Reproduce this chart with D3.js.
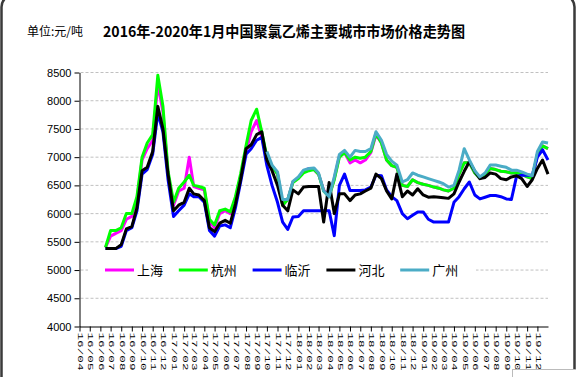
<!DOCTYPE html>
<html>
<head>
<meta charset="utf-8">
<script src="https://cdn.jsdelivr.net/npm/d3@7"></script>
<style>
  body { margin: 0; background: #fff; }
  svg { display: block; }
</style>
</head>
<body>
<div id="chart"></div>
<script>
// half-monthly observation dates
const dates = [
  "2016-06-16",
  "2016-07-01","2016-07-16","2016-08-01","2016-08-16","2016-09-01","2016-09-16",
  "2016-10-01","2016-10-16","2016-11-01","2016-11-16","2016-12-01","2016-12-16",
  "2017-01-01","2017-01-16","2017-02-01","2017-02-16","2017-03-01","2017-03-16",
  "2017-04-01","2017-04-16","2017-05-01","2017-05-16","2017-06-01","2017-06-16",
  "2017-07-01","2017-07-16","2017-08-01","2017-08-16","2017-09-01","2017-09-16",
  "2017-10-01","2017-10-16","2017-11-01","2017-11-16","2017-12-01","2017-12-16",
  "2018-01-01","2018-01-16","2018-02-01","2018-02-16","2018-03-01","2018-03-16",
  "2018-04-01","2018-04-16","2018-05-01","2018-05-16","2018-06-01","2018-06-16",
  "2018-07-01","2018-07-16","2018-08-01","2018-08-16","2018-09-01","2018-09-16",
  "2018-10-01","2018-10-16","2018-11-01","2018-11-16","2018-12-01","2018-12-16",
  "2019-01-01","2019-01-16","2019-02-01","2019-02-16","2019-03-01","2019-03-16",
  "2019-04-01","2019-04-16","2019-05-01","2019-05-16","2019-06-01","2019-06-16",
  "2019-07-01","2019-07-16","2019-08-01","2019-08-16","2019-09-01","2019-09-16",
  "2019-10-01","2019-10-16","2019-11-01","2019-11-16","2019-12-01","2019-12-16",
  "2020-01-01"
];

const monthLabels = [
  "16/04","16/05","16/06","16/07","16/08","16/09","16/10","16/11","16/12",
  "17/01","17/02","17/03","17/04","17/05","17/06","17/07","17/08","17/09","17/10","17/11","17/12",
  "18/01","18/02","18/03","18/04","18/05","18/06","18/07","18/08","18/09","18/10","18/11","18/12",
  "19/01","19/02","19/03","19/04","19/05","19/06","19/07","19/08","19/09","19/10","19/11","19/12"
];

const yTicks = [4000, 4500, 5000, 5500, 6000, 6500, 7000, 7500, 8000, 8500];

const seriesNames = ["上海", "杭州", "临沂", "河北", "广州"];
const seriesColors = ["#ff00ff", "#00ff00", "#0000ff", "#000000", "#4bacc6"];

const shanghai = [
  5400,5600,5650,5700,5900,5950,6250,6950,7150,7300,8300,7800,6700,6150,6400,6450,
  7000,6480,6450,6420,5850,5750,6000,6050,6000,6250,6650,7100,7450,7650,7350,
  7000,6850,6700,6150,6250,6560,6630,6750,6800,6780,6700,6420,6300,6620,7020,7080,
  6900,6950,6900,6950,7080,7400,7250,6950,6850,6820,6500,6480,6600,6550,6520,6500,
  6470,6450,6420,6400,6450,6700,6900,6900,6720,6620,6700,6800,6780,6750,6740,6720,
  6720,6700,6650,6620,7050,7200,7150
];
const hangzhou = [
  5400,5700,5700,5750,6000,6000,6300,7000,7250,7400,8450,7900,6750,6200,6450,6560,
  6680,6500,6480,6450,5900,5800,6050,6080,6030,6300,6700,7200,7650,7850,7450,
  7000,6850,6700,6150,6250,6550,6620,6720,6760,6780,6700,6400,6300,6600,7000,7080,
  6950,7000,6980,7000,7100,7420,7250,6950,6850,6820,6500,6480,6600,6550,6520,6500,
  6470,6450,6420,6400,6450,6700,6900,6900,6720,6620,6700,6800,6780,6750,6740,6720,
  6720,6700,6650,6620,7050,7200,7150
];
const linyi = [
  5380,5380,5380,5420,5700,5750,6050,6700,6780,7050,7780,7450,6600,5950,6050,6150,
  6350,6300,6300,6200,5700,5600,5780,5800,5750,6100,6550,7050,7150,7300,7350,
  6850,6500,6200,5850,5720,5940,5950,6050,6050,6050,6050,6050,6050,5610,6500,6700,
  6410,6410,6410,6420,6470,6680,6670,6420,6300,6230,6000,5910,5970,6030,6030,5900,
  5850,5850,5850,5850,6200,6300,6440,6560,6330,6260,6290,6320,6320,6300,6260,6250,
  6660,6680,6680,6680,7000,7130,6950
];
const hebei = [
  5380,5380,5380,5450,5730,5770,6100,6760,6820,7100,7900,7500,6700,6050,6150,6200,
  6450,6350,6330,6230,5750,5680,5830,5880,5830,6170,6600,7150,7220,7400,7450,
  6950,6760,6500,6150,6050,6420,6350,6470,6480,6480,6480,5850,6550,6000,6350,6350,
  6230,6330,6350,6400,6450,6700,6620,6400,6260,6700,6300,6400,6330,6440,6330,6290,
  6300,6290,6280,6270,6350,6560,6750,6920,6750,6620,6640,6720,6700,6620,6600,6650,
  6670,6620,6480,6600,6800,6950,6700
];
const guangzhou = [
  null,null,null,null,null,null,null,null,null,null,null,null,null,null,null,null,
  null,null,null,null,null,null,null,null,null,null,null,null,null,null,null,
  7100,6860,6740,6250,6250,6570,6650,6770,6800,6810,6720,6400,6300,6650,7050,7120,
  7000,7120,7100,7100,7150,7450,7300,7050,6930,6860,6560,6600,6720,6680,6650,6620,
  6590,6560,6530,6470,6500,6770,7150,6950,6760,6650,6720,6860,6860,6840,6820,6770,
  6770,6740,6700,6670,7100,7270,7250
];

const allSeries = [shanghai, hangzhou, linyi, hebei, guangzhou];

const width = 576, height = 377;
const plot = {left: 79.5, right: 548, top: 72.5, bottom: 326.5};

const svg = d3.select("#chart")
  .append("svg")
    .attr("width", width)
    .attr("height", height);

svg.append("rect")
  .attr("width", width).attr("height", height)
  .attr("fill", "#fff");

const parseDay = d3.utcParse("%Y-%m-%d");
const parseMonth = d3.utcParse("%y/%m");

const x = d3.scaleUtc()
  .domain([parseMonth("16/04"), parseMonth("20/01")])
  .range([plot.left, plot.right]);

const y = d3.scaleLinear()
  .domain([4000, 8500])
  .range([plot.bottom, plot.top]);

// gridlines
svg.append("g")
  .selectAll("line")
  .data(yTicks.filter(v => v > 4000))
  .join("line")
    .attr("x1", plot.left + 1)
    .attr("x2", plot.right)
    .attr("y1", d => y(d))
    .attr("y2", d => y(d))
    .attr("stroke", "#c0c0c0")
    .attr("stroke-dasharray", "3,2");

// legend box sits over the 5000 gridline
svg.append("rect")
  .attr("x", 88).attr("y", 258)
  .attr("width", 388).attr("height", 24)
  .attr("fill", "#fff");

// X axis
const xAxis = svg.append("g")
  .attr("transform", `translate(0,${plot.bottom})`)
  .call(d3.axisBottom(x)
    .tickValues(monthLabels.map(parseMonth))
    .tickSize(5)
    .tickSizeOuter(0)
    .tickFormat(d3.utcFormat("%y/%m")));

xAxis.selectAll("path, line").attr("stroke", "#000");
xAxis.selectAll(".tick text")
  .attr("y", 0)
  .attr("dy", null)
  .attr("transform", "translate(0,6) rotate(90)")
  .attr("text-anchor", "start")
  .attr("dominant-baseline", "central")
  .attr("textLength", 38)
  .attr("lengthAdjust", "spacingAndGlyphs")
  .style("font-family", "'Liberation Mono', monospace")
  .style("font-size", "7px")
  .attr("fill", "#000");

// Y axis
const yAxis = svg.append("g")
  .attr("transform", `translate(${plot.left},0)`)
  .call(d3.axisLeft(y)
    .tickValues(yTicks)
    .tickSize(5)
    .tickSizeOuter(0)
    .tickFormat(d3.format("d")));

yAxis.selectAll("path, line").attr("stroke", "#000");
yAxis.selectAll("text")
  .attr("x", -8)
  .style("font-family", "'Liberation Sans', Arial, sans-serif")
  .style("font-size", "11px")
  .attr("fill", "#000");

// Lines
const line = d3.line()
  .defined(d => d.v != null)
  .x(d => x(d.date))
  .y(d => y(d.v));

allSeries.forEach((vals, i) => {
  const pts = vals.map((v, j) => ({date: parseDay(dates[j]), v: v}));
  svg.append("path")
    .datum(pts)
    .attr("fill", "none")
    .attr("stroke", seriesColors[i])
    .attr("stroke-width", 3)
    .attr("stroke-linejoin", "round")
    .attr("d", line);
});

// Legend
const legend = svg.selectAll(".legend")
  .data(seriesNames)
  .join("g")
    .attr("class", "legend")
    .attr("transform", (d, i) => `translate(${105 + i * 73.8}, 270)`);

legend.append("line")
  .attr("x1", 0).attr("x2", 29)
  .attr("stroke", (d, i) => seriesColors[i])
  .attr("stroke-width", 3);

legend.append("text")
  .attr("x", 32)
  .attr("y", 5)
  .style("font-family", "'Noto Sans CJK SC', sans-serif")
  .style("font-size", "13px")
  .text(d => d);

// Titles
svg.append("text")
  .attr("x", 27).attr("y", 36)
  .style("font-family", "'Noto Sans CJK SC', sans-serif")
  .style("font-size", "12px")
  .text("单位:元/吨");

svg.append("text")
  .attr("x", 103).attr("y", 37)
  .attr("textLength", 362)
  .attr("lengthAdjust", "spacingAndGlyphs")
  .style("font-family", "'Noto Sans CJK SC', sans-serif")
  .style("font-size", "15px")
  .style("font-weight", "bold")
  .text("2016年-2020年1月中国聚氯乙烯主要城市市场价格走势图");

// frame
svg.append("rect")
  .attr("x", 1.5).attr("y", -5)
  .attr("width", 573).attr("height", 420)
  .attr("rx", 12)
  .attr("fill", "none")
  .attr("stroke", "#3a3a3a")
  .attr("stroke-width", 2.5);

svg.append("rect")
  .attr("x", 512.5).attr("y", 369.5)
  .attr("width", 70).attr("height", 12)
  .attr("fill", "#fff")
  .attr("stroke", "#bbb");
</script>
</body>
</html>
